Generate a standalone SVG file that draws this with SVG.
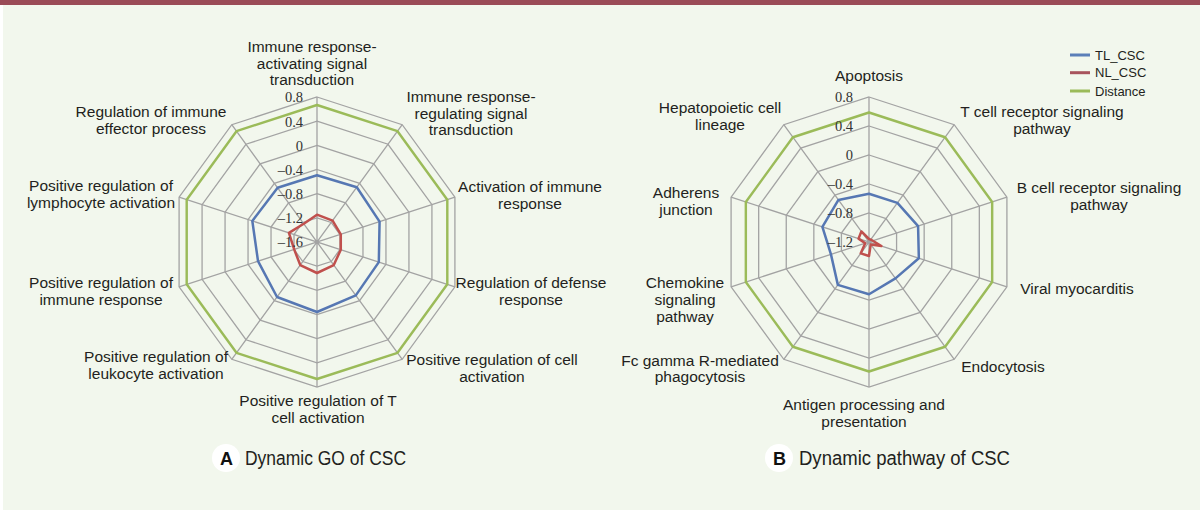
<svg xmlns="http://www.w3.org/2000/svg" xmlns:xlink="http://www.w3.org/1999/xlink" width="1200" height="511" viewBox="0 0 1200 511">
<style>
.grid{fill:none;stroke:#a3a3a3}
.spk{fill:none;stroke:#a3a3a3;stroke-width:1.3}
.ser{fill:none;stroke-linejoin:round}
.tl{stroke:#5677b3;stroke-width:2.5}
.nl{stroke:#c0504d;stroke-width:2.5}
.ds{stroke:#9bbb59}
.lbl{font-family:"Liberation Sans",Arial,sans-serif;font-size:15.5px;fill:#231f20;text-anchor:middle}
.tick{font-family:"Liberation Serif","Times New Roman",serif;font-size:14.5px;fill:#333;text-anchor:end}
.leg{font-family:"Liberation Sans",Arial,sans-serif;font-size:13px;fill:#231f20}
.cap{font-family:"Liberation Sans",Arial,sans-serif;font-size:20px;fill:#231f20}
.badge{font-family:"Liberation Sans",Arial,sans-serif;font-size:18px;font-weight:bold;fill:#111;text-anchor:middle}
</style>
<defs>
<polygon id="dec" points="0,-1 0.5878,-0.809 0.9511,-0.309 0.9511,0.309 0.5878,0.809 0,1 -0.5878,0.809 -0.9511,0.309 -0.9511,-0.309 -0.5878,-0.809"/>
<path id="spokes" d="M0,-145V145M85.23,-117.31L-85.23,117.31M137.91,-44.81L-137.91,44.81M137.91,44.81L-137.91,-44.81M85.23,117.31L-85.23,-117.31"/>
</defs>
<rect x="0" y="0" width="1200" height="511" fill="#ffffff"/>
<rect x="3" y="5" width="1197" height="505" fill="#f2f7ed"/>
<rect x="0" y="0" width="1200" height="5" fill="#9a4b57"/>

<g id="chartA">
<g id="gridA" class="grid" transform="translate(317,242)">
<use href="#dec" transform="scale(24.17)" stroke-width="0.0538"/>
<use href="#dec" transform="scale(48.33)" stroke-width="0.0269"/>
<use href="#dec" transform="scale(72.5)" stroke-width="0.01793"/>
<use href="#dec" transform="scale(96.67)" stroke-width="0.01345"/>
<use href="#dec" transform="scale(120.83)" stroke-width="0.01076"/>
<use href="#dec" transform="scale(145)" stroke-width="0.00897"/>
<use href="#spokes" class="spk"/>
</g>
<g id="seriesA" class="ser" transform="translate(317,242)">
<use href="#dec" class="ds" transform="scale(137)" stroke-width="0.0178"/>
<polygon class="tl" points="0,-66.7 39.79,-54.77 62.58,-20.33 61.82,20.09 38.79,53.39 0,70 -39.97,55.01 -58.97,19.16 -64.67,-21.01 -39.38,-54.2"/>
<polygon class="nl" points="0,-27.3 15.58,-21.44 23.78,-7.73 23.78,7.73 16.75,23.06 0,31 -16.75,23.06 -22.83,7.42 -28.06,-9.12 -13.23,-18.2"/>
</g>
<g id="ticksA" class="tick">
<text x="303" y="102">0.8</text>
<text x="303" y="126.8">0.4</text>
<text x="303" y="150.7">0</text>
<text x="303" y="174.5">–0.4</text>
<text x="303" y="198.7">–0.8</text>
<text x="303" y="222.8">–1.2</text>
<text x="303" y="247">–1.6</text>
</g>
<g id="labelsA" class="lbl">
<g id="a1"><text x="312" y="52">Immune response-</text><text x="312" y="68.5">activating signal</text><text x="312" y="85">transduction</text></g>
<g id="a2"><text x="471" y="102">Immune response-</text><text x="471" y="118.5">regulating signal</text><text x="471" y="135">transduction</text></g>
<g id="a3"><text x="530" y="192">Activation of immune</text><text x="530" y="209">response</text></g>
<g id="a4"><text x="531" y="288">Regulation of defense</text><text x="531" y="305">response</text></g>
<g id="a5"><text x="492" y="365">Positive regulation of cell</text><text x="492" y="382">activation</text></g>
<g id="a6"><text x="318" y="406">Positive regulation of T</text><text x="318" y="423">cell activation</text></g>
<g id="a7"><text x="156" y="362">Positive regulation of</text><text x="156" y="378.5">leukocyte activation</text></g>
<g id="a8"><text x="101" y="288">Positive regulation of</text><text x="101" y="305">immune response</text></g>
<g id="a9"><text x="101" y="191">Positive regulation of</text><text x="101" y="208">lymphocyte activation</text></g>
<g id="a10"><text x="151" y="117">Regulation of immune</text><text x="151" y="133.5">effector process</text></g>
</g>
<g id="captionA">
<circle cx="226" cy="458" r="14" fill="#ffffff"/>
<text class="badge" x="226.5" y="464.5">A</text>
<text class="cap" x="245" y="464.5" textLength="161" lengthAdjust="spacingAndGlyphs">Dynamic GO of CSC</text>
</g>
</g>

<g id="chartB">
<g id="gridB" class="grid" transform="translate(869,242)">
<use href="#dec" transform="scale(29)" stroke-width="0.0448"/>
<use href="#dec" transform="scale(58)" stroke-width="0.0224"/>
<use href="#dec" transform="scale(87)" stroke-width="0.01494"/>
<use href="#dec" transform="scale(116)" stroke-width="0.01121"/>
<use href="#dec" transform="scale(145)" stroke-width="0.00897"/>
<use href="#spokes" class="spk"/>
</g>
<g id="seriesB" class="ser" transform="translate(869,242)">
<use href="#dec" class="ds" transform="scale(129.5)" stroke-width="0.0188"/>
<polygon class="tl" points="0,-48.3 28.39,-39.07 49.08,-15.94 49.84,16.19 26.45,36.41 0,52.3 -31.15,42.88 -38.04,12.36 -46.6,-15.14 -30.57,-42.07"/>
<polygon class="nl" points="0,-3 1.76,-2.43 3.8,-1.24 12.36,4.02 1.76,2.43 0,14 -8.23,11.33 -3.8,1.24 -10.46,-3.4 -7.64,-10.52"/>
</g>
<g id="ticksB" class="tick">
<text x="853" y="102">0.8</text>
<text x="853" y="131">0.4</text>
<text x="853" y="160">0</text>
<text x="853" y="189">–0.4</text>
<text x="853" y="218">–0.8</text>
<text x="853" y="247">–1.2</text>
</g>
<g id="labelsB" class="lbl">
<g id="b1"><text x="869" y="81">Apoptosis</text></g>
<g id="b2"><text x="1042" y="117">T cell receptor signaling</text><text x="1042" y="133.5">pathway</text></g>
<g id="b3"><text x="1099" y="193">B cell receptor signaling</text><text x="1099" y="210">pathway</text></g>
<g id="b4"><text x="1077" y="294">Viral myocarditis</text></g>
<g id="b5"><text x="1003" y="372">Endocytosis</text></g>
<g id="b6"><text x="864" y="410">Antigen processing and</text><text x="864" y="427">presentation</text></g>
<g id="b7"><text x="700" y="366">Fc gamma R-mediated</text><text x="700" y="382">phagocytosis</text></g>
<g id="b8"><text x="685" y="288">Chemokine</text><text x="685" y="305">signaling</text><text x="685" y="322">pathway</text></g>
<g id="b9"><text x="686" y="198">Adherens</text><text x="686" y="215">junction</text></g>
<g id="b10"><text x="720" y="113">Hepatopoietic cell</text><text x="720" y="129.5">lineage</text></g>
</g>
<g id="captionB">
<circle cx="779" cy="458" r="14" fill="#ffffff"/>
<text class="badge" x="779.5" y="464.5">B</text>
<text class="cap" x="799" y="464.5" textLength="211" lengthAdjust="spacingAndGlyphs">Dynamic pathway of CSC</text>
</g>
</g>

<g id="legend">
<line x1="1070" y1="55" x2="1090" y2="55" stroke="#5b7fb8" stroke-width="3"/>
<line x1="1070" y1="72.7" x2="1090" y2="72.7" stroke="#a8545d" stroke-width="3"/>
<line x1="1070" y1="91" x2="1090" y2="91" stroke="#9bbb59" stroke-width="3"/>
<text class="leg" x="1095" y="59.5">TL_CSC</text>
<text class="leg" x="1095" y="77.2">NL_CSC</text>
<text class="leg" x="1095" y="95.5">Distance</text>
</g>
</svg>
